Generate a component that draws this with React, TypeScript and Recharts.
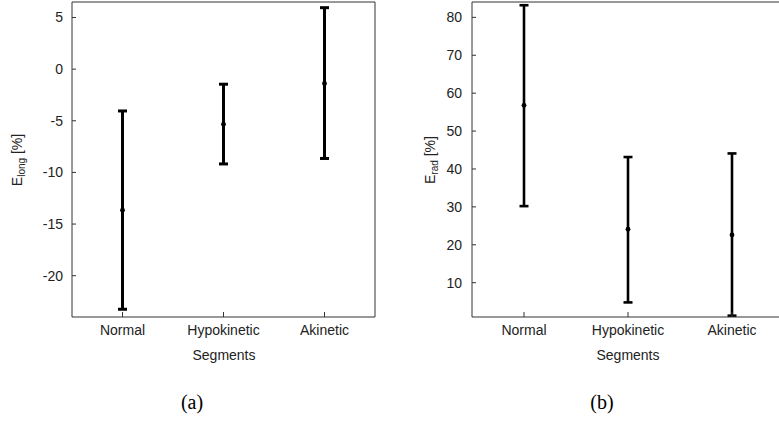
import React from 'react';
import { ComposedChart, Line, ErrorBar, XAxis, YAxis } from 'recharts';

const categories = ['Normal', 'Hypokinetic', 'Akinetic'];

const longMean = [-13.66, -5.33, -1.39];
const longLow = [-23.25, -9.18, -8.65];
const longHigh = [-4.05, -1.46, 5.95];
const longTicks = [-20, -15, -10, -5, 0, 5];

const radMean = [56.8, 24.1, 22.6];
const radLow = [30.2, 4.8, 1.3];
const radHigh = [83.2, 43.15, 44.1];
const radTicks = [10, 20, 30, 40, 50, 60, 70, 80];

const build = (mean: number[], low: number[], high: number[]) =>
  categories.map((c, i) => ({ cat: c, mean: mean[i], err: [mean[i] - low[i], high[i] - mean[i]] }));

const longData = build(longMean, longLow, longHigh);
const radData = build(radMean, radLow, radHigh);

const FONT = '"Liberation Sans", Arial, sans-serif';
const AX = '#333';

function Panel(props: {
  data: any[];
  domain: [number, number];
  ticks: number[];
  left: number;
  right: number;
  tickMargin: number;
  sw: number;
}) {
  const { data, domain, ticks, left, right, tickMargin, sw } = props;
  const tickStyle = { fontSize: 14, fontFamily: FONT, fill: '#222' };
  return (
    <div style={{ position: 'absolute', left, top: 0, width: 400, height: 421 }}>
      <ComposedChart
        width={400}
        height={421}
        data={data}
        margin={{ top: 1, right, bottom: 103, left: 71 }}
      >
        <XAxis
          xAxisId="b"
          dataKey="cat"
          type="category"
          scale="band"
          height={1}
          tickSize={-5}
          tickMargin={13}
          stroke={AX}
          tick={tickStyle}
          tickLine={{ stroke: AX }}
          interval={0}
        />
        <XAxis
          xAxisId="t"
          dataKey="cat"
          type="category"
          scale="band"
          orientation="top"
          height={1}
          tickSize={-5}
          stroke={AX}
          tick={false}
          tickLine={{ stroke: AX }}
          interval={0}
        />
        <YAxis
          yAxisId="l"
          type="number"
          domain={domain}
          ticks={ticks}
          allowDataOverflow
          width={1}
          tickSize={-4}
          tickMargin={tickMargin}
          stroke={AX}
          tick={tickStyle}
          tickLine={{ stroke: AX }}
          interval={0}
        />
        <YAxis
          yAxisId="r"
          type="number"
          orientation="right"
          domain={domain}
          ticks={ticks}
          allowDataOverflow
          width={1}
          tickSize={-4}
          stroke={AX}
          tick={false}
          tickLine={{ stroke: AX }}
          interval={0}
        />
        <Line
          xAxisId="t"
          yAxisId="r"
          dataKey="mean"
          stroke="none"
          dot={false}
          isAnimationActive={false}
        />
        <Line
          xAxisId="b"
          yAxisId="l"
          dataKey="mean"
          stroke="none"
          dot={{ r: 2.4, fill: '#000', stroke: '#000', strokeWidth: 0 }}
          isAnimationActive={false}
        >
          <ErrorBar dataKey="err" direction="y" width={4.5} strokeWidth={sw} stroke="#000" />
        </Line>
      </ComposedChart>
    </div>
  );
}

function YLabel(props: { x: number; main: string; sub: string }) {
  const { x, main, sub } = props;
  return (
    <svg style={{ position: 'absolute', left: 0, top: 0 }} width={779} height={421}>
      <text
        x={x}
        y={160}
        transform={`rotate(-90 ${x} 160)`}
        textAnchor="middle"
        fill="#222"
        fontSize={14}
        fontFamily={FONT}
      >
        {main}
        <tspan fontSize={10} dy={3}>{sub}</tspan>
        <tspan dy={-3}> [%]</tspan>
      </text>
    </svg>
  );
}

export default function App() {
  return (
    <div
      style={{
        position: 'absolute',
        left: 0,
        top: 0,
        width: 779,
        height: 421,
        overflow: 'hidden',
        background: '#fff',
      }}
    >
      <Panel data={longData} domain={[-24, 6.5]} ticks={longTicks} left={0} right={24} tickMargin={13} sw={3} />
      <Panel data={radData} domain={[0.95, 84.05]} ticks={radTicks} left={400} right={15} tickMargin={14} sw={2.6} />
      <div style={{ position: 'absolute', left: 0, top: 0, width: 779, height: 421, pointerEvents: 'none' }}>
        <YLabel x={22} main="E" sub="long" />
        <YLabel x={435} main="E" sub="rad" />
      </div>
      <div style={{ position: 'absolute', left: 174, top: 345, width: 100, textAlign: 'center', fontSize: 14, fontFamily: FONT, color: '#222', lineHeight: '20px' }}>
        Segments
      </div>
      <div style={{ position: 'absolute', left: 578, top: 345, width: 100, textAlign: 'center', fontSize: 14, fontFamily: FONT, color: '#222', lineHeight: '20px' }}>
        Segments
      </div>
      <div style={{ position: 'absolute', left: 152, top: 390, width: 80, textAlign: 'center', fontSize: 20, fontFamily: '"Liberation Serif", "Times New Roman", serif', color: '#000', lineHeight: '24px' }}>
        (a)
      </div>
      <div style={{ position: 'absolute', left: 562, top: 390, width: 80, textAlign: 'center', fontSize: 20, fontFamily: '"Liberation Serif", "Times New Roman", serif', color: '#000', lineHeight: '24px' }}>
        (b)
      </div>
    </div>
  );
}
